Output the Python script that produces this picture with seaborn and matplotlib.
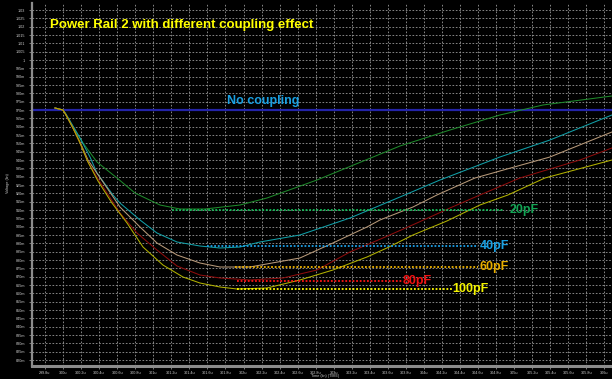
import numpy as np
import pandas as pd
import matplotlib
matplotlib.use("Agg")
import matplotlib.pyplot as plt
import seaborn as sns

# ---------------- data ----------------
series_names = ["20pF", "40pF", "60pF", "80pF", "100pF"]

t_20 = [299.911, 299.999, 300.033, 300.110, 300.221, 300.376, 300.598, 300.797, 301.074,
        301.296, 301.573, 301.961, 302.260, 302.814, 303.734, 304.288, 304.842, 305.318, 306.083]
v_20 = [0.9712, 0.9700, 0.9670, 0.9598, 0.9502, 0.9388, 0.9292, 0.9202, 0.9130,
        0.9106, 0.9106, 0.9130, 0.9172, 0.9280, 0.9484, 0.9580, 0.9670, 0.9730, 0.9784]

t_40 = [299.911, 299.999, 300.033, 300.110, 300.188, 300.299, 300.376, 300.553, 300.631,
        300.853, 301.041, 301.263, 301.517, 301.739, 301.961, 302.182, 302.625, 303.180,
        303.734, 304.177, 304.842, 305.396, 306.083]
v_40 = [0.9712, 0.9700, 0.9676, 0.9604, 0.9532, 0.9418, 0.9322, 0.9190, 0.9142,
        0.9040, 0.8962, 0.8908, 0.8884, 0.8872, 0.8878, 0.8908, 0.8950, 0.9052,
        0.9178, 0.9280, 0.9418, 0.9520, 0.9670]

t_60 = [299.911, 299.999, 300.033, 300.110, 300.188, 300.276, 300.443, 300.631, 300.853,
        301.041, 301.263, 301.517, 301.739, 302.071, 302.625, 302.991, 303.368, 303.512,
        303.878, 304.143, 304.565, 305.396, 306.083]
v_60 = [0.9712, 0.9700, 0.9670, 0.9592, 0.9508, 0.9400, 0.9268, 0.9118, 0.8998,
        0.8902, 0.8830, 0.8782, 0.8758, 0.8758, 0.8812, 0.8902, 0.8998, 0.9040,
        0.9118, 0.9190, 0.9292, 0.9418, 0.9568]

t_80 = [299.911, 299.999, 300.033, 300.110, 300.188, 300.276, 300.409, 300.631, 300.819,
        301.041, 301.263, 301.517, 301.739, 302.071, 302.437, 302.814, 303.180, 303.545,
        303.922, 304.288, 304.620, 305.063, 305.728, 306.083]
v_80 = [0.9712, 0.9700, 0.9670, 0.9592, 0.9502, 0.9388, 0.9268, 0.9082, 0.8962,
        0.8860, 0.8764, 0.8710, 0.8692, 0.8680, 0.8692, 0.8740, 0.8848, 0.8932,
        0.9022, 0.9112, 0.9190, 0.9292, 0.9400, 0.9472]

t_100 = [299.911, 299.999, 300.033, 300.110, 300.188, 300.276, 300.387, 300.542, 300.709,
         300.886, 301.107, 301.329, 301.517, 301.739, 301.927, 302.260, 302.625, 302.991,
         303.368, 303.589, 303.878, 304.254, 304.620, 304.930, 305.340, 306.083]
v_100 = [0.9712, 0.9700, 0.9670, 0.9592, 0.9502, 0.9388, 0.9274, 0.9142, 0.9022,
         0.8878, 0.8770, 0.8698, 0.8662, 0.8638, 0.8626, 0.8632, 0.8680, 0.8740,
         0.8818, 0.8872, 0.8950, 0.9034, 0.9130, 0.9190, 0.9292, 0.9400]

# no-coupling reference
nc_t = [299.66, 306.25]
nc_v = [0.9702, 0.9702]

# minimum markers (dotted lines) and their labels
ref_levels = [0.9100, 0.8884, 0.8758, 0.8674, 0.8626]
ref_start = [301.207, 301.595, 301.905, 301.927, 301.927]
ref_end = [304.875, 304.598, 304.598, 303.767, 304.310]
label_t = [304.952, 304.620, 304.620, 303.767, 304.310]

y_tick_vals = [round(0.820 + 0.005 * i, 3) for i in range(43)]
x_tick_vals = [round(299.8 + 0.2 * i, 1) for i in range(33)]

# ---------------- styles ----------------
curve_colors = ["#1f8a2c", "#12a0a8", "#b89a7a", "#8e0c0c", "#b2b200"]
dot_colors = ["#10c058", "#1ea0e6", "#f0b400", "#ff1414", "#ffff00"]
label_colors = ["#14a455", "#1aa0e2", "#e8ae00", "#f01010", "#f4f400"]

frames = []
for name, t, v in zip(series_names,
                      [t_20, t_40, t_60, t_80, t_100],
                      [v_20, v_40, v_60, v_80, v_100]):
    frames.append(pd.DataFrame({"time": t, "voltage": v, "series": name}))
df = pd.concat(frames, ignore_index=True)

fig = plt.figure(figsize=(6.12, 3.79), dpi=100, facecolor="black")
ax = fig.add_axes([32 / 612, 13 / 379, 595 / 612, 363 / 379])
ax.set_facecolor("black")

ax.set_xlim(299.656, 306.25)
ax.set_ylim(0.8164, 1.0342)

ax.set_yticks(y_tick_vals)
ylabels = []
for v in y_tick_vals:
    if v >= 1:
        ylabels.append(f"{v:g}")
    else:
        ylabels.append(f"{int(round(v * 1000))}m")
ax.set_yticklabels(ylabels)
ax.set_xticks(x_tick_vals)
ax.set_xticklabels([f"{x:g}u" for x in x_tick_vals])

ax.grid(True, color="#9a9a9a", linestyle=(0, (2, 2)), linewidth=0.6)
ax.set_axisbelow(True)

for s in ["top", "right"]:
    ax.spines[s].set_visible(False)
ax.spines["left"].set_color("#8c8c8c")
ax.spines["left"].set_linewidth(1.6)
ax.spines["bottom"].set_color("#8c8c8c")
ax.spines["bottom"].set_linewidth(2.2)

ax.tick_params(axis="both", colors="#8c8c8c", labelcolor="#cfcfcf",
               length=2, width=0.6, labelsize=2.7)
ax.tick_params(axis="y", pad=3)
ax.tick_params(axis="x", pad=1.5)
for lab in ax.get_xticklabels() + ax.get_yticklabels():
    lab.set_fontfamily("Liberation Sans")

# no coupling line
ax.plot(nc_t, nc_v, color="#2424a8", linewidth=1.6, zorder=2)

sns.lineplot(data=df, x="time", y="voltage", hue="series",
             palette=dict(zip(series_names, curve_colors)),
             sort=False, estimator=None, legend=False, linewidth=0.75, ax=ax, zorder=3)

for lvl, s, e, c in zip(ref_levels, ref_start, ref_end, dot_colors):
    ax.hlines(lvl, s, e, colors=c, linestyles=(0, (1, 1)), linewidth=1.3, zorder=4)

for name, lvl, lt, c in zip(series_names, ref_levels, label_t, label_colors):
    ax.text(lt, lvl, name, color=c, fontsize=9, fontweight="bold",
            family="Liberation Sans", ha="left", va="center", zorder=5)

ax.text(301.817, 0.9754, "No coupling", color="#1aa0e2", fontsize=9,
        fontweight="bold", family="Liberation Sans", ha="left", va="center")

ax.set_xlabel("")
ax.set_ylabel("")
fig.text(50 / 612, 1 - 25 / 379, "Power Rail 2 with different coupling effect",
         color="#ffff00", fontsize=9.5, fontweight="bold", family="Liberation Sans",
         ha="left", va="center")
fig.text(8 / 612, 1 - 183 / 379, "Voltage (lin)", color="#cfcfcf", fontsize=2.7,
         rotation=90, ha="center", va="center", family="Liberation Sans")
fig.text(325 / 612, 0.5 / 379, "Time (lin) (TIME)", color="#cfcfcf", fontsize=2.7,
         ha="center", va="bottom", family="Liberation Sans")

fig.savefig("out.png", dpi=100, facecolor="black")
